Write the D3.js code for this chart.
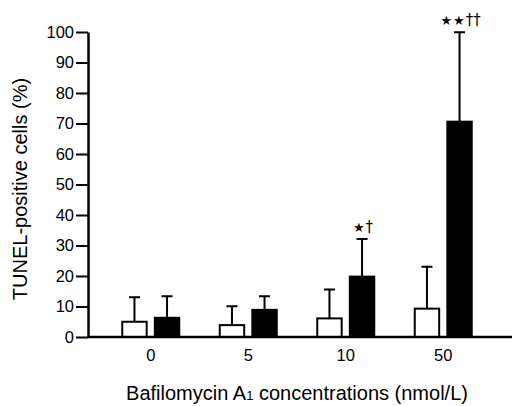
<!DOCTYPE html>
<html>
<head>
<meta charset="utf-8">
<script src="https://cdn.jsdelivr.net/npm/d3@7"></script>
<style>
  body { margin: 0; background: #fff; }
  svg { display: block; font-family: "Liberation Sans", Arial, Helvetica, sans-serif; }
  .axis text { font-size: 16.5px; fill: #000; }
</style>
</head>
<body>
<div id="chart"></div>
<script>
// values (mean and SD, % TUNEL-positive cells)
var concentrations = ["0", "5", "10", "50"],
    series = ["control", "treated"],
    controlMean = [5.0, 3.9, 6.1, 9.3],
    controlSD = [8.0, 6.2, 9.5, 13.7],
    treatedMean = [6.3, 8.9, 19.8, 70.6],
    treatedSD = [7.1, 4.5, 12.3, 29.3],
    starMarks = ["", "", "★", "★★"],
    daggerMarks = ["", "", "†", "††"],
    yTicks = [0, 10, 20, 30, 40, 50, 60, 70, 80, 90, 100];

var width = 512, height = 406,
    axisX = 88, baseY = 337, topY = 32;

var svg = d3.select("#chart").append("svg")
    .attr("width", width)
    .attr("height", height);

var x = d3.scaleBand().domain(concentrations).range([102, 492]);
var x1 = d3.scaleBand().domain(series).range([-28.5, 28.5]).paddingInner(0.25);
var y = d3.scaleLinear().domain([0, 100]).range([baseY, topY]);

var rows = concentrations.map(function(c, i) {
  return {
    cat: c,
    stars: starMarks[i],
    daggers: daggerMarks[i],
    bars: [
      { s: "control", v: controlMean[i], sd: controlSD[i] },
      { s: "treated", v: treatedMean[i], sd: treatedSD[i] }
    ]
  };
});

// error bars first so bars sit on top
var groups = svg.selectAll(".grp").data(rows).enter().append("g")
    .attr("class", "grp")
    .attr("transform", function(d) { return "translate(" + (x(d.cat) + x.bandwidth() / 2) + ",0)"; });

groups.selectAll(".err").data(function(d) { return d.bars; }).enter().append("path")
    .attr("class", "err")
    .attr("fill", "none")
    .attr("stroke", "#000")
    .attr("stroke-width", 2)
    .attr("d", function(d) {
      var cx = x1(d.s) + x1.bandwidth() / 2, yt = y(d.v + d.sd);
      return "M" + cx + "," + y(d.v) + "V" + yt + "M" + (cx - 5.5) + "," + yt + "H" + (cx + 5.5);
    });

groups.selectAll(".bar").data(function(d) { return d.bars; }).enter().append("rect")
    .attr("class", "bar")
    .attr("x", function(d) { return x1(d.s); })
    .attr("width", x1.bandwidth())
    .attr("y", function(d) { return y(d.v); })
    .attr("height", function(d) { return baseY - y(d.v); })
    .attr("fill", function(d) { return d.s == "control" ? "#fff" : "#000"; })
    .attr("stroke", "#000")
    .attr("stroke-width", 2);

// significance marks above the treated bars
var sig = groups.filter(function(d) { return d.stars; }).append("text")
    .attr("x", x1("treated") + x1.bandwidth() / 2 + 1)
    .attr("y", function(d) { return y(d.bars[1].v + d.bars[1].sd) - 7; })
    .attr("text-anchor", "middle")
    .style("font-family", "'DejaVu Sans', sans-serif");
sig.append("tspan").style("font-size", "13px").attr("letter-spacing", 1)
    .text(function(d) { return d.stars; });
sig.append("tspan").style("font-size", "15px")
    .text(function(d) { return d.daggers; });

// y axis
var yAxis = svg.append("g")
    .attr("class", "axis")
    .attr("transform", "translate(" + axisX + ",0)")
    .call(d3.axisLeft(y).tickValues(yTicks).tickSize(12).tickPadding(2).tickSizeOuter(0));
yAxis.select(".domain").attr("stroke-width", 2.5);
yAxis.selectAll(".tick line").attr("stroke-width", 2);

// x axis: baseline runs from the y axis to the right edge
svg.append("line")
    .attr("x1", axisX - 1).attr("x2", width)
    .attr("y1", baseY).attr("y2", baseY)
    .attr("stroke", "#000").attr("stroke-width", 2.5);

var xAxis = svg.append("g")
    .attr("class", "axis")
    .attr("transform", "translate(0," + baseY + ")")
    .call(d3.axisBottom(x).tickSize(0).tickPadding(12));
xAxis.select(".domain").remove();

// axis titles
svg.append("text")
    .attr("transform", "translate(27,189) rotate(-90)")
    .attr("text-anchor", "middle")
    .style("font-size", "20px")
    .text("TUNEL-positive cells (%)");

var xt = svg.append("text")
    .attr("x", 297)
    .attr("y", 400)
    .attr("text-anchor", "middle")
    .style("font-size", "20px");
xt.append("tspan").text("Bafilomycin A");
xt.append("tspan").style("font-size", "13px").text("1");
xt.append("tspan").text(" concentrations (nmol/L)");
</script>
</body>
</html>
